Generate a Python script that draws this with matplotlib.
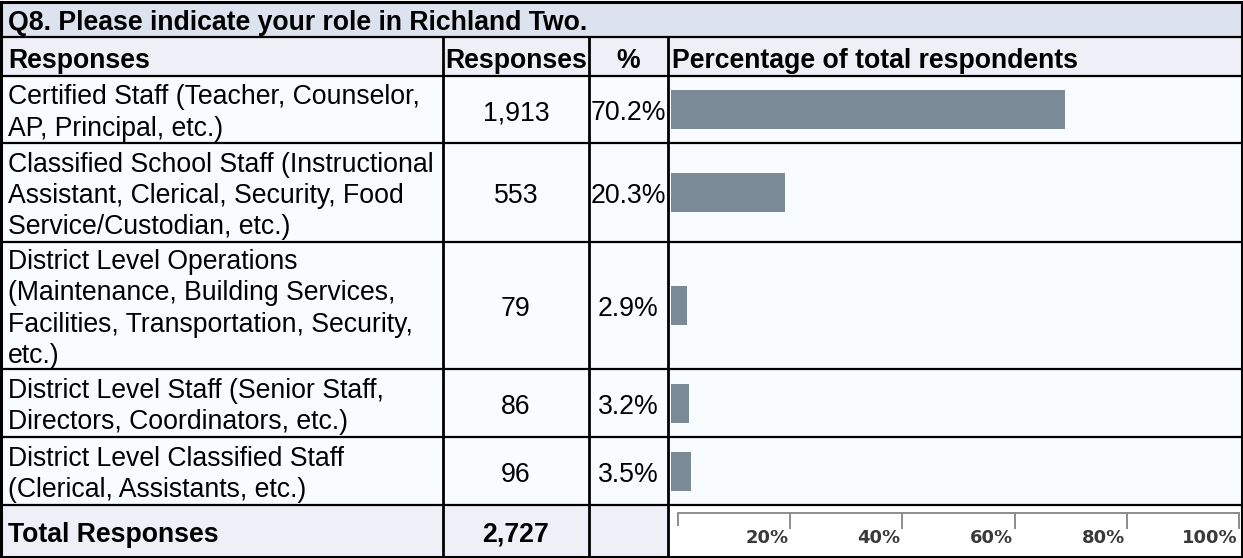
import matplotlib
matplotlib.use("Agg")
import matplotlib.pyplot as plt
from matplotlib.patches import Rectangle

# ---- data ----
title = "Q8. Please indicate your role in Richland Two."
col_headers = ["Responses", "Responses", "%", "Percentage of total respondents"]
categories = [
    "Certified Staff (Teacher, Counselor,\nAP, Principal, etc.)",
    "Classified School Staff (Instructional\nAssistant, Clerical, Security, Food\nService/Custodian, etc.)",
    "District Level Operations\n(Maintenance, Building Services,\nFacilities, Transportation, Security,\netc.)",
    "District Level Staff (Senior Staff,\nDirectors, Coordinators, etc.)",
    "District Level Classified Staff\n(Clerical, Assistants, etc.)",
]
responses = [1913, 553, 79, 86, 96]
percents = [70.2, 20.3, 2.9, 3.2, 3.5]
total_label = "Total Responses"
total_responses = 2727
axis_ticks = [20, 40, 60, 80, 100]

# ---- layout (pixels) ----
W, H = 1243, 558
FONT = "Liberation Sans"
FS = 19.2
fig = plt.figure(figsize=(W / 100, H / 100), dpi=100)
ax = fig.add_axes([0, 0, 1, 1])
ax.set_xlim(0, W)
ax.set_ylim(H, 0)
ax.axis("off")

cols = [1, 443, 589, 668, 1242]
title_y = (2, 37)
header_y = (37, 76)
row_bounds = [76, 143, 242, 369, 437, 505]
total_y = (505, 557)

C_TITLE = "#dce2ee"
C_HEAD = "#eeeff7"
C_DATA = "#f8fcfe"
C_BAR = "#7a8a96"

def rect(x0, y0, x1, y1, color):
    ax.add_patch(Rectangle((x0, y0), x1 - x0, y1 - y0, facecolor=color, edgecolor="none", zorder=0))

rect(cols[0], title_y[0], cols[-1], title_y[1], C_TITLE)
rect(cols[0], header_y[0], cols[-1], header_y[1], C_HEAD)
rect(cols[0], row_bounds[0], cols[-1], row_bounds[-1], C_DATA)
rect(cols[0], total_y[0], cols[3], total_y[1], C_HEAD)
rect(cols[3], total_y[0], cols[-1], total_y[1], "white")

LW = 1.6
def hline(y, x0=cols[0], x1=cols[-1], lw=LW):
    ax.plot([x0, x1], [y, y], color="black", lw=lw, solid_capstyle="projecting", zorder=5)
def vline(x, y0, y1, lw=LW):
    ax.plot([x, x], [y0, y1], color="black", lw=lw, solid_capstyle="projecting", zorder=5)

hline(title_y[0], lw=2.2)
hline(title_y[1])
hline(header_y[1])
for yb in row_bounds[1:]:
    hline(yb)
hline(total_y[1], lw=2.2)
vline(cols[0], title_y[0], total_y[1], lw=2.2)
vline(cols[-1], title_y[0], total_y[1], lw=2.2)
for x in cols[1:4]:
    vline(x, header_y[0], total_y[1], lw=2.0)

LINE = 31.5
PAD = 8

def put(x, yc, s, ha="left", bold=False, size=FS, color="black"):
    lines = s.split("\n")
    n = len(lines)
    for i, ln in enumerate(lines):
        y = yc + (i - (n - 1) / 2) * LINE
        ax.text(x, y, ln, ha=ha, va="center_baseline", fontsize=size, family=FONT,
                fontweight="bold" if bold else "normal", color=color, zorder=6)

# title
put(PAD, sum(title_y) / 2 + 1, title, bold=True)
# headers
hy = sum(header_y) / 2 + 1
put(PAD, hy, col_headers[0], bold=True)
put((cols[1] + cols[2]) / 2, hy, col_headers[1], ha="center", bold=True)
put((cols[2] + cols[3]) / 2, hy, col_headers[2], ha="center", bold=True)
put(cols[3] + 4, hy, col_headers[3], bold=True)

centers = []
for i, cat in enumerate(categories):
    yc = (row_bounds[i] + row_bounds[i + 1]) / 2 + 0.5
    centers.append((row_bounds[i] + row_bounds[i + 1]) / 2)
    put(PAD, yc, cat)
    put((cols[1] + cols[2]) / 2, yc, f"{responses[i]:,}", ha="center")
    put((cols[2] + cols[3]) / 2, yc, f"{percents[i]:.1f}%", ha="center")

ty = sum(total_y) / 2 + 1
put(PAD, ty, total_label, bold=True)
put((cols[1] + cols[2]) / 2, ty, f"{total_responses:,}", ha="center", bold=True)

# ---- bars ----
bx0, bx1 = 671, 1232
by0, by1 = row_bounds[0], row_bounds[-1]
bax = fig.add_axes([bx0 / W, 1 - by1 / H, (bx1 - bx0) / W, (by1 - by0) / H])
bax.set_xlim(0, 100)
bax.set_ylim(by1, by0)
bax.patch.set_alpha(0)
bax.axis("off")
bax.barh(centers, percents, height=39, color=C_BAR, zorder=3)

# ---- percentage axis ----
axx0, axx1 = 678, 1239
base_y, ax_bot = 513, 553
tax = fig.add_axes([axx0 / W, 1 - ax_bot / H, (axx1 - axx0) / W, (ax_bot - base_y) / H])
tax.set_xlim(0, 100)
tax.set_ylim(0, 1)
tax.patch.set_alpha(0)
for s in ["left", "right", "bottom"]:
    tax.spines[s].set_visible(False)
tax.spines["top"].set_color("#8c8c8c")
tax.spines["top"].set_linewidth(1.4)
tax.set_yticks([])
tax.xaxis.set_ticks_position("top")
tax.set_xticks(axis_ticks)
tax.set_xticks([0], minor=True)
tax.tick_params(axis="x", which="major", direction="in", length=11.5, width=1.4,
                color="#8c8c8c", labeltop=False)
tax.tick_params(axis="x", which="minor", direction="in", length=9.5, width=1.4,
                color="#8c8c8c", labeltop=False)
label_frac = 1 - (538 - base_y) / (ax_bot - base_y)
for t in axis_ticks:
    tax.text(t - 0.3, label_frac, f"{t}%", ha="right", va="center", fontsize=13,
             family="DejaVu Sans", fontweight="bold", color="#3a3a3a")

fig.savefig("out.png", dpi=100)
